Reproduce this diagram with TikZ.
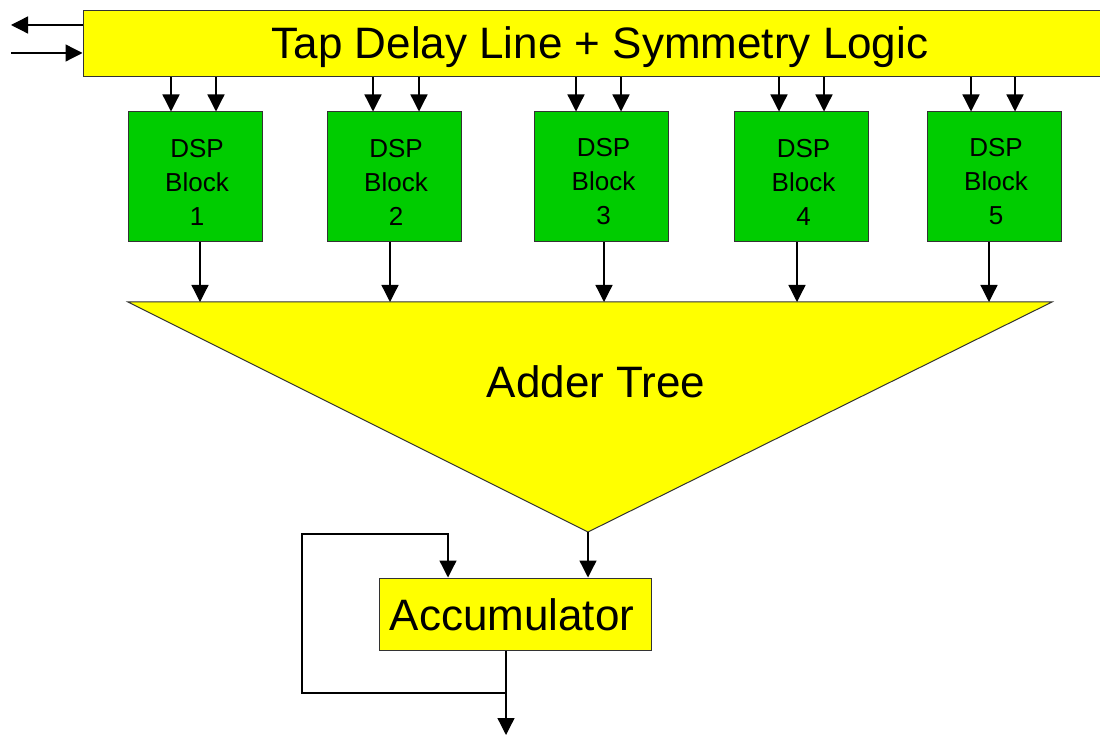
\documentclass[tikz,border=0pt]{standalone}
\usepackage{fontspec}
\setmainfont{Liberation Sans}
\usetikzlibrary{arrows.meta}
\definecolor{yel}{HTML}{FFFF00}
\definecolor{grn}{HTML}{00CC00}
\definecolor{edgec}{HTML}{333333}
\begin{document}
\begin{tikzpicture}[x=1pt,y=-1pt,
  box/.style={draw=edgec, line width=1pt, inner sep=0pt},
  dsp/.style={box, fill=grn, minimum width=134pt, minimum height=130pt},
  dsptext/.style={align=center, inner sep=0pt, font=\fontsize{26}{34}\selectfont},
  bigtext/.style={font=\fontsize{44}{50}\selectfont},
  wire/.style={draw=black, line width=1.3pt},
  conn/.style={wire, -{Triangle[length=17pt,width=17pt]}}]
\fill[white] (0,0) rectangle (1100,735);
\useasboundingbox (0,0) rectangle (1100,735);
% top bar
\node[box, fill=yel, minimum width=1034pt, minimum height=66pt] (tap) at (600,44) {};
\node[bigtext] (taptext) at (600,47) {Tap Delay Line + Symmetry Logic};
\coordinate (outL) at (11,25);
\coordinate (inL) at (11,53);
\draw[conn] (tap.west |- outL) -- (outL);
\draw[conn] (inL) -- (tap.west |- inL);
% DSP blocks
\foreach \i/\cx/\a/\b in {1/195/-24/21, 2/394/-21/25, 3/601.5/-25.5/19.5, 4/801.5/-22.5/22.5, 5/994/-23/21}{
  \node[dsp] (d\i) at (\cx,177) {};
  \node[dsptext] (t\i) at (\cx+2,182) {DSP\\Block\\\i};
  \draw[conn] ([xshift=\a pt]d\i.north |- tap.south) -- ([xshift=\a pt]d\i.north);
  \draw[conn] ([xshift=\b pt]d\i.north |- tap.south) -- ([xshift=\b pt]d\i.north);
}
% adder tree
\coordinate (tl) at (128,302);
\coordinate (tr) at (1052,302);
\coordinate (tb) at (588,532);
\filldraw[fill=yel, draw=edgec, line width=1pt] (tl) -- (tr) -- (tb) -- cycle;
\node[bigtext] (adder) at (596,382) {Adder Tree};
\foreach \i/\o in {1/5, 2/-4, 3/2.5, 4/-4.5, 5/-5}{
  \draw[conn] ([xshift=\o pt]d\i.south) -- ([xshift=\o pt]d\i.south |- tl);
}
% accumulator
\node[box, fill=yel, minimum width=272pt, minimum height=72pt] (acc) at (515,614) {};
\node[bigtext] (acctext) at (512,615) {Accumulator};
\draw[conn] (tb) -- (tb |- acc.north);
\coordinate (junc) at (506,693);
\coordinate (fbl) at (302,534);
\coordinate (out) at (506,735);
\draw[wire] (acc.south -| junc) -- (junc);
\draw[conn] (junc) -- (out);
\draw[conn] (junc) -- (fbl |- junc) -- (fbl) -| ([xshift=-67pt]acc.north);
\end{tikzpicture}
\end{document}
